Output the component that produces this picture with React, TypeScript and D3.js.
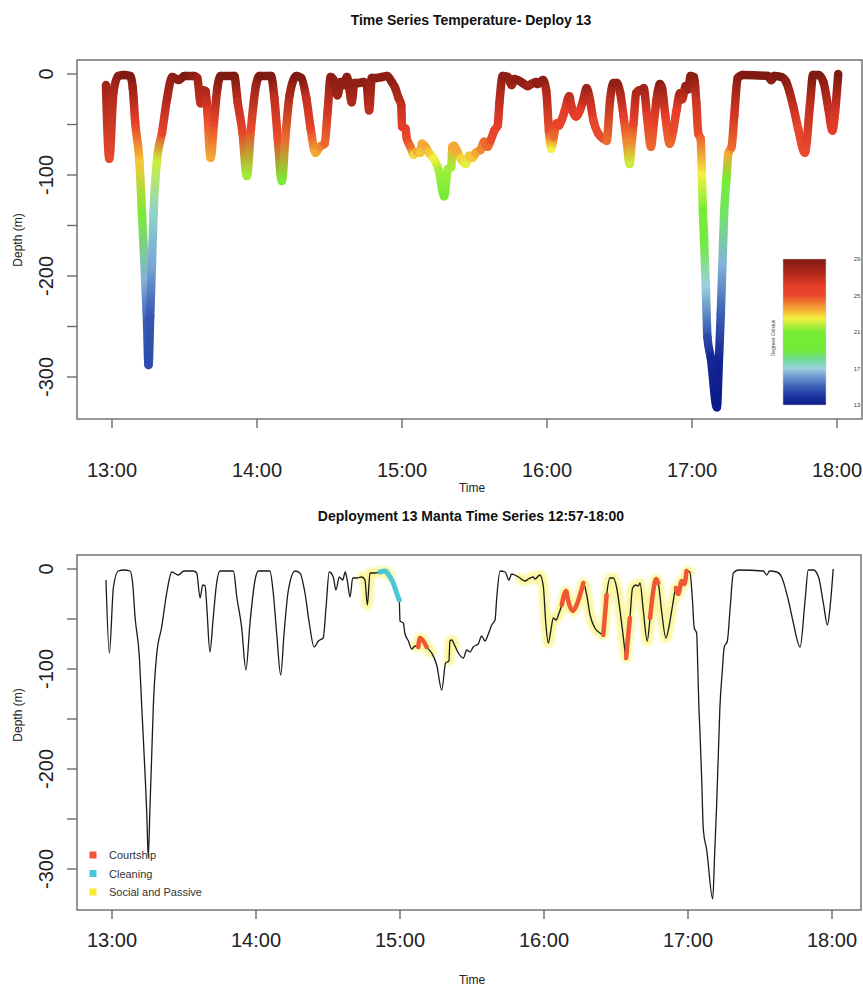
import React from 'react';
import * as d3 from 'd3';

// ---- data (minutes after 12:00, depth in m, temperature in °C) ----
const timeMin = [
  57.5, 58.9, 60.6, 62.6, 65, 67.5, 68.6, 69.6, 71.4, 72.4, 73.75, 74.5, 75.1, 75.8, 76.5, 77.2, 78.6, 80.7, 82.8, 84.9,
  87.6, 90, 93.9, 95.3, 96.7, 97.8, 98.8, 99.5, 100.8, 102.2, 103.6, 105, 110.6, 112, 114, 115.8, 117.5, 119.6, 121, 125.8,
  127.2, 128.6, 130.3, 131.7, 133.5, 136.3, 138.3, 140.4, 142.2, 144.2, 146, 148, 149.2, 150.5, 152.2, 153.3, 154.7, 156.1, 157.2, 158,
  159.2, 160.3, 161.9, 164, 165.4, 166.4, 167.5, 169.6, 171.7, 173.8, 175.8, 177.2, 178.6, 179.7,
  180, 181.4, 182, 183.5, 184.9, 186.3, 187.6, 188.3, 189.7, 191.1, 193.2, 195.3, 197.4,
  199, 200.4, 200.8, 201.5, 202.9, 204.3, 206.4, 207.8, 209.2, 210.5, 212.6, 214, 215.4, 216.8, 218.2, 219.6, 220.3, 221.7, 223.8,
  225.4, 226.5, 228.6, 230, 232.1, 233.5, 235.5, 236.2, 238.3, 239.7, 240.8, 241.8, 242.8, 243.9, 245, 246, 247.4, 249.2, 250.1, 252,
  253.6, 255, 256.4, 257.8, 259.2, 261.2, 263.3, 264.7, 266.1, 267.5, 268.9, 270.3, 271.7, 273.1, 274.2, 275.1, 275.8, 276.9, 278.3, 279.3,
  280, 281.4, 283, 284.2, 285.3, 286.7, 287.6, 289, 290.8, 292.2, 293.6, 295, 295.9, 297.4, 298.5, 299.4, 300.8, 301.8, 302.6, 303.6,
  304.1, 304.5, 305, 305.7, 306.4, 307.8, 310.3, 311.1, 311.9, 312.6, 313.3, 314.2, 315.1, 316.4, 317.5, 318.9, 321, 331.4, 332.8, 334,
  337, 339, 341.8, 343.9, 346.7, 348.8, 350.1, 352.3, 354.4, 356.4, 358.1, 359.2, 360.5,
];
const depth = [
  -11, -84, -18, -2, -1, -2, -14, -48, -88, -138, -204, -245, -288, -240, -190, -138, -86, -58, -24, -3,
  -6, -2, -2, -4, -29, -16, -17, -38, -83, -48, -14, -2, -2, -28, -58, -101, -54, -11, -2, -2,
  -24, -64, -106, -64, -21, -2, -4, -24, -54, -78, -72, -69, -38, -3, -8, -21, -8, -11, -3, -11,
  -28, -9, -9, -8, -11, -36, -4, -4, -3, -2, -8, -14, -24, -31,
  -52, -54, -64, -72, -80, -77, -78, -69, -72, -78, -84, -96, -121,
  -94, -92, -72, -71, -77, -84, -89, -81, -83, -78, -75, -67, -72, -65, -56, -51, -29, -2, -3,
  -11, -5, -7, -9, -12, -10, -8, -10, -6, -17, -56, -74, -62, -49, -51, -46, -36, -22, -32, -42,
  -36, -26, -14, -26, -46, -59, -64, -66, -26, -9, -9, -19, -42, -69, -89, -66, -49, -19, -16, -17,
  -14, -42, -72, -49, -26, -10, -14, -42, -69, -56, -36, -19, -25, -12, -15, -2, -3, -29, -59, -64,
  -100, -135, -164, -210, -261, -281, -330, -285, -238, -188, -138, -105, -78, -72, -41, -4, -1, -2, -6, -2,
  -3, -8, -31, -54, -78, -31, -1, -1, -8, -34, -56, -38, 0,
];
const tempC = [
  28, 25, 27.5, 28.5, 29, 29, 28, 26, 23, 20.5, 16.5, 15, 14.5, 14.8, 16.3, 17.3, 22, 25.5, 27.5, 28.5,
  28.5, 29, 28.5, 28, 27, 27.5, 27.5, 26, 23.5, 25.5, 28, 29, 29, 27, 25.5, 21.5, 25, 28, 29, 29,
  27, 25, 21, 24.5, 27.5, 29, 29, 27, 25.5, 23.5, 24, 24.5, 26.5, 28.5, 28.5, 28, 28.5, 28.5, 28.5, 28.5,
  27.5, 28.5, 28.5, 28.5, 28.5, 27, 28.5, 28.5, 28.5, 28.5, 28.5, 28, 27.5, 27,
  26, 26, 25, 24.5, 22.8, 23.5, 23, 23.5, 23.5, 23, 22.5, 21.5, 20.5,
  21.5, 21.5, 23.5, 23.5, 23.5, 22.8, 22.3, 23, 23, 23.5, 24, 24.5, 24.5, 25, 25.5, 26, 27, 28.5, 28.5,
  28, 28.5, 28.5, 28.5, 28, 28, 28.5, 28.5, 28.5, 27.5, 25, 22.5, 24.5, 25.5, 25.5, 25.5, 26, 27, 26.5, 26,
  26, 27, 28, 27, 25.5, 25, 25, 24.5, 27, 28.5, 28.5, 27.5, 26, 24, 22, 24, 25.5, 27.5, 27.5, 27.5,
  28, 26, 24.5, 25.5, 27, 28.5, 28, 26, 24.5, 25, 26, 27.5, 27, 28, 28, 28.5, 28.5, 26.5, 25, 24.5,
  22.5, 20.5, 19, 17, 14.5, 13.5, 13, 13.3, 15, 16.5, 18.5, 21, 23.5, 24.5, 26.5, 28.5, 29, 29, 28.5, 29,
  29, 28.5, 27, 25.5, 25, 27, 29, 29, 28.5, 27, 26, 26.5, 29,
];

const xTickMinutes = [60, 120, 180, 240, 300, 360];
const xTickLabels = ['13:00', '14:00', '15:00', '16:00', '17:00', '18:00'];
const yTicks = [0, -50, -100, -150, -200, -250, -300];
const yLabelTicks = [0, -100, -200, -300];

const behaviorNames = ['Courtship', 'Cleaning', 'Social and Passive'];
const behaviorColors = ['#ef5636', '#4cc7d6', '#f6ea2a'];
const courtshipIntervals = [[187.5, 191.1], [247, 257], [264.5, 266.8], [274.1, 276], [283.8, 287.7], [294, 300]];
const cleaningIntervals = [[171, 179.7]];
const socialIntervals = [[163, 177], [186, 193.5], [199.5, 203.5], [229.5, 301]];

const tempStops = [13, 14, 15, 16, 17, 18, 19, 21, 21.6, 22.5, 23, 24, 25, 26, 27.5, 29];
const tempColors = [
  '#0c1a8a', '#1c36a0', '#3c5fb5', '#6a94d0', '#9bd0e0', '#6ddc95', '#72ea3a', '#78ec35', '#a8ee3a', '#f3f040',
  '#f5c838', '#f08a30', '#e84a2c', '#e63d2a', '#b0281a', '#7e1a12',
];
const colorbarLabels = [29, 25, 21, 17, 13];

const FONT = 'Liberation Sans, Arial, Helvetica, sans-serif';

const colorOf = d3.scaleLinear<string>().domain(tempStops).range(tempColors).interpolate(d3.interpolateRgb);

type Pt = { t: number; d: number; c: number };
const pts: Pt[] = timeMin.map((t, i) => ({ t, d: depth[i], c: tempC[i] }));

function Axes({ x, y, box, labelY, xLabelBase, title, titleY, xTitleY, yTitleY }: any) {
  return (
    <g fontFamily={FONT}>
      <rect x={box.x0} y={box.y0} width={box.x1 - box.x0} height={box.y1 - box.y0} fill="none" stroke="#6a6a6a" strokeWidth={1.4} />
      {xTickMinutes.map((m, i) => (
        <g key={'xt' + i}>
          <line x1={x(m)} x2={x(m)} y1={box.y1} y2={box.y1 + 9} stroke="#6a6a6a" strokeWidth={1.4} />
          <text x={x(m)} y={xLabelBase} fontSize={20} textAnchor="middle" fill="#222">{xTickLabels[i]}</text>
        </g>
      ))}
      {yTicks.map((v, i) => (
        <line key={'yt' + i} x1={box.x0 - 10} x2={box.x0} y1={y(v)} y2={y(v)} stroke="#6a6a6a" strokeWidth={1.4} />
      ))}
      {yLabelTicks.map((v, i) => (
        <text key={'yl' + i} transform={`translate(${labelY},${y(v)}) rotate(-90)`} fontSize={20} textAnchor="middle" fill="#222">{v}</text>
      ))}
      <text x={471} y={titleY} fontSize={14} fontWeight="bold" textAnchor="middle" fill="#111">{title}</text>
      <text x={472} y={xTitleY} fontSize={12} textAnchor="middle" fill="#222">Time</text>
      <text transform={`translate(22,${yTitleY}) rotate(-90)`} fontSize={12} textAnchor="middle" fill="#222">Depth (m)</text>
    </g>
  );
}

export default function App() {
  // top panel
  const boxT = { x0: 77, x1: 862, y0: 60, y1: 419 };
  const xT = d3.scaleLinear().domain([60, 360]).range([112, 837]);
  const yT = d3.scaleLinear().domain([0, -300]).range([74, 377]);
  // bottom panel
  const boxB = { x0: 77, x1: 861, y0: 555, y1: 910 };
  const xB = d3.scaleLinear().domain([60, 360]).range([112, 832]);
  const yB = d3.scaleLinear().domain([0, -300]).range([569, 869]);

  const lineB = d3.line<Pt>().x((p) => xB(p.t)).y((p) => yB(p.d)).curve(d3.curveMonotoneX);
  const sub = (iv: number[]) => pts.filter((p) => p.t >= iv[0] && p.t <= iv[1]);

  // smooth top track, split into one cubic piece per pair of readings
  const lineT = d3.line<Pt>().x((p) => xT(p.t)).y((p) => yT(p.d)).curve(d3.curveMonotoneX);
  const pieces = (lineT(pts) || '').split('C').slice(1);
  const segPaths = pieces.map((c, i) => `M${xT(pts[i].t)},${yT(pts[i].d)}C${c}`);

  const cb = { x: 783, y: 259, w: 43, h: 146 };
  const cbY = d3.scaleLinear().domain([29, 13]).range([cb.y, cb.y + cb.h]);
  const cbStops = tempStops.map((s, i) => ({ off: (29 - s) / 16, col: tempColors[i] })).sort((a, b) => a.off - b.off);

  return (
    <svg width={863} height={989} style={{ position: 'absolute', left: 0, top: 0 }} xmlns="http://www.w3.org/2000/svg">
      <rect width={863} height={989} fill="#fff" />
      <defs>
        {pts.slice(1).map((p, i) => {
          const a = pts[i];
          return (
            <linearGradient key={'g' + i} id={'seg' + i} gradientUnits="userSpaceOnUse" x1={xT(a.t)} y1={yT(a.d)} x2={xT(p.t)} y2={yT(p.d)}>
              <stop offset="0" stopColor={colorOf(a.c)} />
              <stop offset="1" stopColor={colorOf(p.c)} />
            </linearGradient>
          );
        })}
        <linearGradient id="cbar" x1="0" y1="0" x2="0" y2="1">
          {cbStops.map((s, i) => (
            <stop key={i} offset={s.off} stopColor={s.col} />
          ))}
        </linearGradient>
        <filter id="glow" x="-10%" y="-10%" width="120%" height="120%">
          <feGaussianBlur stdDeviation="1.6" />
        </filter>
      </defs>

      {/* ---------- top panel ---------- */}
      <Axes x={xT} y={yT} box={boxT} labelY={53} xLabelBase={477} title="Time Series Temperature- Deploy 13" titleY={25} xTitleY={492} yTitleY={240} />
      <g>
        {segPaths.map((d, i) => (
          <path key={'s' + i} d={d} fill="none" stroke={`url(#seg${i})`} strokeWidth={8.5} strokeLinecap="round" />
        ))}
      </g>
      {/* colour bar */}
      <rect x={cb.x} y={cb.y} width={cb.w} height={cb.h} fill="url(#cbar)" stroke="#ccc" strokeWidth={0.5} />
      {colorbarLabels.map((v) => (
        <text key={'cb' + v} x={857} y={cbY(v) + 2} fontSize={6} fontFamily={FONT} textAnchor="middle" fill="#444">{v}</text>
      ))}
      <text transform={`translate(775,${cb.y + cb.h / 2 + 6}) rotate(-90)`} fontSize={5} fontFamily={FONT} textAnchor="middle" fill="#444">Degrees Celsius</text>

      {/* ---------- bottom panel ---------- */}
      <Axes x={xB} y={yB} box={boxB} labelY={53} xLabelBase={947} title="Deployment 13 Manta Time Series 12:57-18:00" titleY={521} xTitleY={984} yTitleY={715} />
      <g filter="url(#glow)">
        {socialIntervals.map((iv, i) => (
          <path key={'so' + i} d={lineB(sub(iv)) || ''} fill="none" stroke={behaviorColors[2]} strokeOpacity={0.45} strokeWidth={10} strokeLinejoin="round" strokeLinecap="round" />
        ))}
      </g>
      <path d={lineB(pts) || ''} fill="none" stroke="#1a1a1a" strokeWidth={1.3} strokeLinejoin="round" />
      {cleaningIntervals.map((iv, i) => (
        <path key={'cl' + i} d={lineB(sub(iv)) || ''} fill="none" stroke={behaviorColors[1]} strokeWidth={5} strokeLinejoin="round" strokeLinecap="round" />
      ))}
      {courtshipIntervals.map((iv, i) => (
        <path key={'co' + i} d={lineB(sub(iv)) || ''} fill="none" stroke={behaviorColors[0]} strokeWidth={4.5} strokeLinejoin="round" strokeLinecap="round" />
      ))}
      {/* legend */}
      <g fontFamily={FONT}>
        {behaviorNames.map((n, i) => (
          <g key={n}>
            <rect x={89.5} y={851.5 + i * 18.5} width={7} height={7} fill={behaviorColors[i]} />
            <text x={109} y={859 + i * 18.5} fontSize={11} fill="#333">{n}</text>
          </g>
        ))}
      </g>
    </svg>
  );
}
